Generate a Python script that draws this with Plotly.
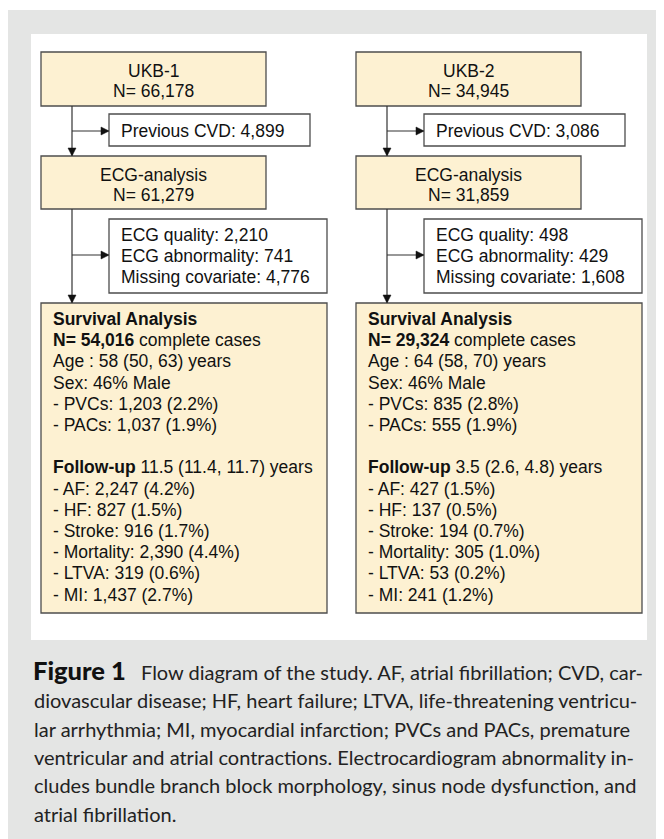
import plotly.graph_objects as go

# ---------------- data ----------------
cohorts = ["UKB-1", "UKB-2"]
n_total = ["66,178", "34,945"]
prev_cvd = ["4,899", "3,086"]
n_ecg = ["61,279", "31,859"]
ecg_quality = ["2,210", "498"]
ecg_abnormality = ["741", "429"]
missing_cov = ["4,776", "1,608"]
n_complete = ["54,016", "29,324"]
age = ["58 (50, 63)", "64 (58, 70)"]
sex_male = ["46%", "46%"]
pvcs = ["1,203 (2.2%)", "835 (2.8%)"]
pacs = ["1,037 (1.9%)", "555 (1.9%)"]
followup = ["11.5 (11.4, 11.7)", "3.5 (2.6, 4.8)"]
outcome_names = ["AF", "HF", "Stroke", "Mortality", "LTVA", "MI"]
outcome_vals = [
    ["2,247 (4.2%)", "827 (1.5%)", "916 (1.7%)", "2,390 (4.4%)", "319 (0.6%)", "1,437 (2.7%)"],
    ["427 (1.5%)", "137 (0.5%)", "194 (0.7%)", "305 (1.0%)", "53 (0.2%)", "241 (1.2%)"],
]
caption_title = "Figure 1"
caption_lines = [
    "Flow diagram of the study. AF, atrial fibrillation; CVD, car-",
    "diovascular disease; HF, heart failure; LTVA, life-threatening ventricu-",
    "lar arrhythmia; MI, myocardial infarction; PVCs and PACs, premature",
    "ventricular and atrial contractions. Electrocardiogram abnormality in-",
    "cludes bundle branch block morphology, sinus node dysfunction, and",
    "atrial fibrillation.",
]

# ---------------- style ----------------
W, H = 664, 839
OFF = 8  # browser body margin compensation
GRAY = "#e4e5e4"
FILL = "#fdf1d2"
EDGE = "#4d4d4d"
LINE = "#333333"
TXT = "#111111"
FONT = "Liberation Sans, Arial, sans-serif"
FS = 17.5

fig = go.Figure()
shapes = []
annotations = []

def rect(x0, y0, x1, y1, fill, line=EDGE, width=1.3):
    shapes.append(dict(type="rect", xref="x", yref="y", x0=x0, y0=y0, x1=x1, y1=y1,
                       fillcolor=fill, line=dict(color=line, width=width), layer="below"))

def seg(x0, y0, x1, y1):
    shapes.append(dict(type="line", xref="x", yref="y", x0=x0, y0=y0, x1=x1, y1=y1,
                       line=dict(color=LINE, width=1.2)))

def tri_down(x, y):
    shapes.append(dict(type="path", xref="x", yref="y",
                       path=f"M {x-4},{y-8} L {x+4},{y-8} L {x},{y} Z",
                       fillcolor="#111111", line=dict(color="#111111", width=0.5)))

def tri_right(x, y):
    shapes.append(dict(type="path", xref="x", yref="y",
                       path=f"M {x-8},{y-4} L {x-8},{y+4} L {x},{y} Z",
                       fillcolor="#111111", line=dict(color="#111111", width=0.5)))

def text(x, y, s, anchor="left", size=FS, font=FONT, color=TXT, weight="normal"):
    annotations.append(dict(x=x, y=y, xref="x", yref="y", text=s, showarrow=False,
                            xanchor=anchor, yanchor="middle", align=anchor,
                            font=dict(family=font, size=size, color=color, weight=weight)))

# background panels
rect(7, 10, W + OFF, H + OFF, GRAY, line=GRAY, width=0)
rect(31, 34, 647, 640, "#ffffff", line="#ffffff", width=0)

offsets = [0, 315]
for i, dx in enumerate(offsets):
    bx0, bx1 = 41 + dx, 266 + dx
    ex0 = 109 + dx
    ex1a = 310 + dx
    ex1b = 327 + dx
    vx = 72 + dx
    # top box
    rect(bx0, 52, bx1, 106, FILL)
    text((bx0 + bx1) / 2, 71, cohorts[i], anchor="center")
    text((bx0 + bx1) / 2, 91, f"N= {n_total[i]}", anchor="center")
    # exclusion 1
    rect(ex0, 114, ex1a, 146, "#ffffff")
    text(ex0 + 10, 131, f"Previous CVD: {prev_cvd[i]}")
    # ECG box
    rect(bx0, 156, bx1, 209, FILL)
    text((bx0 + bx1) / 2, 175, "ECG-analysis", anchor="center")
    text((bx0 + bx1) / 2, 195, f"N= {n_ecg[i]}", anchor="center")
    # exclusion 2
    rect(ex0, 219, ex1b, 293, "#ffffff")
    text(ex0 + 10, 235, f"ECG quality: {ecg_quality[i]}")
    text(ex0 + 10, 256, f"ECG abnormality: {ecg_abnormality[i]}")
    text(ex0 + 10, 277, f"Missing covariate: {missing_cov[i]}")
    # survival box
    rect(bx0, 303, ex1b, 613, FILL)
    lines = [
        "<b>Survival Analysis</b>",
        f"<b>N= {n_complete[i]}</b> complete cases",
        f"Age : {age[i]} years",
        f"Sex: {sex_male[i]} Male",
        f"- PVCs: {pvcs[i]}",
        f"- PACs: {pacs[i]}",
        "",
        f"<b>Follow-up</b> {followup[i]} years",
    ] + [f"- {n}: {v}" for n, v in zip(outcome_names, outcome_vals[i])]
    for k, s in enumerate(lines):
        if s:
            text(bx0 + 10, 319 + k * 21.2, s)
    # connectors
    seg(vx, 106, vx, 155)
    tri_down(vx, 156)
    seg(vx, 131, ex0 - 1, 131)
    tri_right(ex0, 131)
    seg(vx, 209, vx, 302)
    tri_down(vx, 303)
    seg(vx, 255, ex0 - 1, 255)
    tri_right(ex0, 255)

# caption
CAP_FONT = "Lato, sans-serif"
text(31, 670, caption_title, size=25.5, font=CAP_FONT, color="#111111", weight=900)
for k, s in enumerate(caption_lines):
    x = 139 if k == 0 else 32
    text(x, 672 + k * 28.3, s, size=20, font=CAP_FONT, color="#222222")

fig.update_layout(
    width=W, height=H, margin=dict(l=0, r=0, t=0, b=0),
    paper_bgcolor="#ffffff", plot_bgcolor="#ffffff",
    xaxis=dict(range=[OFF, W + OFF], visible=False, fixedrange=True),
    yaxis=dict(range=[H + OFF, OFF], visible=False, fixedrange=True),
    shapes=shapes, annotations=annotations, showlegend=False,
)
fig.write_html("out.html")
